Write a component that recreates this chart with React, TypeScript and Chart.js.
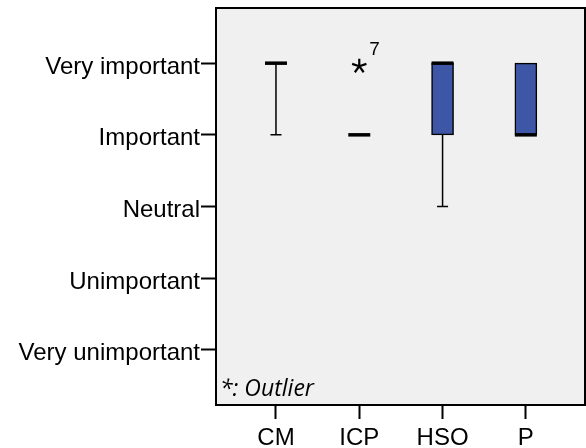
import React, { useEffect, useRef } from 'react';
import { Chart, registerables } from 'chart.js';

Chart.register(...registerables);

const categories = ['CM', 'ICP', 'HSO', 'P'];
const yLabels = ['Very unimportant', 'Unimportant', 'Neutral', 'Important', 'Very important'];
const q1 = [5, 4, 4, 4];
const q3 = [5, 4, 5, 5];
const medians = [5, 4, 5, 4];
const whiskerLow = [4, 4, 3, 4];
const whiskerHigh = [5, 4, 5, 5];
const outlierCategory = [2];
const outlierValue = [5];
const outlierId = ['7'];

const BOX_COLOR = '#3d56a6';
const BOX_W = 22;
const CAP_W = 11;

const boxPlugin = {
  id: 'boxExtras',
  beforeDraw(chart: any) {
    const { ctx, chartArea: a } = chart;
    ctx.save();
    ctx.fillStyle = '#f0f0f0';
    ctx.fillRect(a.left, a.top, a.right - a.left, a.bottom - a.top);
    ctx.restore();
  },
  beforeDatasetsDraw(chart: any) {
    const { ctx } = chart;
    const xs = chart.scales.x;
    const ys = chart.scales.y;
    ctx.save();
    ctx.strokeStyle = '#000';
    ctx.lineWidth = 1.5;
    categories.forEach((_, i) => {
      const x = xs.getPixelForValue(i + 1);
      const segs: [number, number][] = [
        [q3[i], whiskerHigh[i]],
        [q1[i], whiskerLow[i]],
      ];
      segs.forEach(([from, to]) => {
        if (from === to) return;
        const y0 = ys.getPixelForValue(from);
        const y1 = ys.getPixelForValue(to);
        ctx.beginPath();
        ctx.moveTo(x, y0);
        ctx.lineTo(x, y1);
        ctx.moveTo(x - CAP_W / 2, y1);
        ctx.lineTo(x + CAP_W / 2, y1);
        ctx.stroke();
      });
    });
    ctx.restore();
  },
  afterDatasetsDraw(chart: any) {
    const { ctx, chartArea: a } = chart;
    const xs = chart.scales.x;
    const ys = chart.scales.y;
    ctx.save();
    ctx.strokeStyle = '#000';
    ctx.lineWidth = 3.5;
    categories.forEach((_, i) => {
      const x = xs.getPixelForValue(i + 1);
      const y = ys.getPixelForValue(medians[i]);
      ctx.beginPath();
      ctx.moveTo(x - BOX_W / 2, y);
      ctx.lineTo(x + BOX_W / 2, y);
      ctx.stroke();
    });
    outlierCategory.forEach((c, k) => {
      const x = xs.getPixelForValue(c);
      const y = ys.getPixelForValue(outlierValue[k]) + 3;
      ctx.lineWidth = 2.2;
      ctx.beginPath();
      for (let j = 0; j < 5; j++) {
        const ang = -Math.PI / 2 + (j * 2 * Math.PI) / 5;
        ctx.moveTo(x, y);
        ctx.lineTo(x + 7.5 * Math.cos(ang), y + 7.5 * Math.sin(ang));
      }
      ctx.stroke();
      ctx.fillStyle = '#000';
      ctx.font = '19px "Liberation Sans", Arial, sans-serif';
      ctx.textAlign = 'left';
      ctx.textBaseline = 'alphabetic';
      ctx.fillText(outlierId[k], x + 10, y - 11);
    });
    ctx.lineWidth = 2;
    ctx.strokeStyle = '#000';
    ctx.strokeRect(a.left, a.top, a.right - a.left, a.bottom - a.top);
    ctx.fillStyle = '#000';
    ctx.font = 'italic 23px "Open Sans", sans-serif';
    ctx.textAlign = 'left';
    ctx.textBaseline = 'alphabetic';
    ctx.fillText('*: Outlier', a.left + 4, a.bottom - 9);
    ctx.restore();
  },
};

export default function App() {
  const ref = useRef<HTMLCanvasElement | null>(null);
  useEffect(() => {
    document.body.style.margin = '0';
    const canvas = ref.current;
    if (!canvas) return;
    const chart = new Chart(canvas, {
      type: 'bar',
      data: {
        datasets: [
          {
            data: categories.map((_, i) => ({ x: i + 1, y: [q1[i], q3[i]] })) as any,
            backgroundColor: categories.map((_, i) => (q1[i] === q3[i] ? 'rgba(0,0,0,0)' : BOX_COLOR)),
            borderColor: '#000',
            borderWidth: categories.map((_, i) => (q1[i] === q3[i] ? 0 : 1.5)) as any,
            borderSkipped: false,
            barThickness: BOX_W,
          },
        ],
      },
      options: {
        responsive: false,
        animation: false,
        devicePixelRatio: 1,
        layout: { padding: { top: 8, right: 1, left: 0, bottom: 0 } },
        plugins: { legend: { display: false }, tooltip: { enabled: false } },
        scales: {
          x: {
            type: 'linear',
            offset: false,
            min: 0.28,
            max: 4.71,
            afterBuildTicks: (s: any) => {
              s.ticks = categories.map((_, i) => ({ value: i + 1 }));
            },
            afterFit: (s: any) => {
              s.height = 43;
              s.paddingLeft = 0;
              s.paddingRight = 0;
            },
            ticks: {
              callback: (v: any) => categories[Math.round(v) - 1] ?? '',
              color: '#000',
              font: { family: '"Liberation Sans", Arial, sans-serif', size: 24 },
              padding: 5,
              maxRotation: 0,
              autoSkip: false,
            },
            grid: { offset: false, drawOnChartArea: false, tickLength: 14, tickColor: '#000', tickWidth: 2 },
            border: { display: false },
          },
          y: {
            type: 'linear',
            min: 0.23,
            max: 5.77,
            afterBuildTicks: (s: any) => {
              s.ticks = yLabels.map((_, i) => ({ value: i + 1 }));
            },
            afterFit: (s: any) => {
              s.width = 216;
              s.paddingTop = 0;
              s.paddingBottom = 0;
            },
            ticks: {
              callback: (v: any) => yLabels[Math.round(v) - 1] ?? '',
              color: '#000',
              font: { family: '"Liberation Sans", Arial, sans-serif', size: 24 },
              padding: 1,
              labelOffset: 4,
              autoSkip: false,
            },
            grid: { drawOnChartArea: false, tickLength: 15, tickColor: '#000', tickWidth: 2 },
            border: { display: false },
          },
        },
      },
      plugins: [boxPlugin],
    } as any);
    return () => chart.destroy();
  }, []);
  return <canvas ref={ref} width={586} height={448} style={{ display: 'block' }} />;
}
